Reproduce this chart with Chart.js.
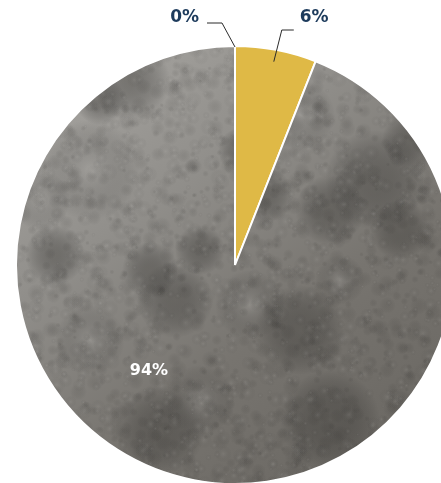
<!DOCTYPE html>
<html>
<head>
<meta charset="utf-8">
<script src="https://cdn.jsdelivr.net/npm/chart.js@4.4.1/dist/chart.umd.min.js"></script>
<style>
  html, body { margin: 0; padding: 0; background: #fff; overflow: hidden; }
  #wrap { width: 470px; height: 490px; }
</style>
</head>
<body>
<div id="wrap"><canvas id="shareChart" width="470" height="490"></canvas></div>
<script>
const categories = ["Don't know", "Yes", "No"];
const shares = [0, 6, 94];
const shareLabels = ["0%", "6%", "94%"];

// grey watercolour wash used for the big slice
function washTexture(w, h) {
  const c = document.createElement("canvas");
  c.width = w;
  c.height = h;
  const g = c.getContext("2d");
  const base = g.createLinearGradient(40, 60, 340, 470);
  base.addColorStop(0, "#a8a6a2");
  base.addColorStop(0.35, "#918f8b");
  base.addColorStop(0.7, "#77746f");
  base.addColorStop(1, "#6c6964");
  g.fillStyle = base;
  g.fillRect(0, 0, w, h);

  const blob = (x, y, r, col) => {
    const rg = g.createRadialGradient(x, y, 0, x, y, r);
    rg.addColorStop(0, col);
    rg.addColorStop(1, "rgba(0,0,0,0)");
    g.fillStyle = rg;
    g.beginPath();
    g.arc(x, y, r, 0, Math.PI * 2);
    g.fill();
  };

  // darker pools in the wash
  [[130, 80, 40], [175, 300, 38], [150, 270, 28], [200, 250, 25], [375, 180, 50],
   [330, 210, 35], [400, 230, 30], [300, 330, 45], [55, 255, 30], [265, 195, 28],
   [410, 140, 28], [240, 150, 22], [100, 100, 25], [330, 420, 50], [160, 430, 45]]
    .forEach(([x, y, r]) => blob(x, y, r, "rgba(78,76,72,0.5)"));
  // lighter patches
  [[90, 170, 50], [40, 200, 30], [250, 305, 35], [300, 115, 35], [200, 400, 35],
   [90, 340, 35], [340, 280, 25]]
    .forEach(([x, y, r]) => blob(x, y, r, "rgba(176,174,170,0.35)"));

  // fine paper grain
  let seed = 11;
  const next = () => (seed = (seed * 16807) % 2147483647) / 2147483647;
  for (let i = 0; i < 3000; i++) {
    const x = next() * w, y = next() * h, r = 2 + next() * 7;
    const light = next() < 0.5;
    blob(x, y, r, light ? "rgba(185,183,179,0.12)" : "rgba(60,58,55,0.12)");
  }
  return g.createPattern(c, "no-repeat");
}

const canvas = document.getElementById("shareChart");
const wash = washTexture(470, 490);

const sliceLabels = {
  id: "sliceLabels",
  afterDraw(chart) {
    const ctx = chart.ctx;
    const arcs = chart.getDatasetMeta(0).data;
    const cx = arcs[0].x, cy = arcs[0].y, r = arcs[0].outerRadius;
    ctx.save();
    ctx.font = "bold 17px 'DejaVu Sans', sans-serif";
    ctx.textBaseline = "middle";
    ctx.lineWidth = 1;
    ctx.strokeStyle = "#2a2a2a";

    // zero slice: leader from its edge at the top
    const a0 = arcs[0].startAngle;
    const p0 = { x: cx + r * Math.cos(a0), y: cy + r * Math.sin(a0) };
    ctx.beginPath();
    ctx.moveTo(p0.x, p0.y + 1);
    ctx.lineTo(p0.x - 13, cy - r - 23);
    ctx.lineTo(p0.x - 28, cy - r - 23);
    ctx.stroke();
    ctx.fillStyle = "#1d3b5c";
    ctx.textAlign = "right";
    ctx.fillText(shareLabels[0], p0.x - 36, cy - r - 28);

    // small slice: leader from inside the slice
    const a1 = (arcs[1].startAngle + arcs[1].endAngle) / 2;
    const p1 = { x: cx + (r - 12) * Math.cos(a1), y: cy + (r - 12) * Math.sin(a1) };
    ctx.beginPath();
    ctx.moveTo(p1.x, p1.y);
    ctx.lineTo(p1.x + 8, cy - r - 16);
    ctx.lineTo(p1.x + 20, cy - r - 16);
    ctx.stroke();
    ctx.textAlign = "left";
    ctx.fillText(shareLabels[1], p1.x + 26, cy - r - 28);

    // large slice label inside
    ctx.fillStyle = "#ffffff";
    ctx.font = "bold 16px 'DejaVu Sans', sans-serif";
    ctx.textAlign = "center";
    ctx.fillText(shareLabels[2], cx - 86, cy + 106);
    ctx.restore();
  }
};

new Chart(canvas, {
  type: "pie",
  data: {
    labels: categories,
    datasets: [{
      data: shares,
      backgroundColor: ["#1d3b5c", "#dfb946", wash],
      borderColor: "#ffffff",
      borderWidth: 2
    }]
  },
  options: {
    responsive: false,
    animation: false,
    layout: { padding: { left: 15, right: 15, top: 45, bottom: 5 } },
    plugins: {
      legend: { display: false },
      tooltip: { enabled: false }
    }
  },
  plugins: [sliceLabels]
});
</script>
</body>
</html>
